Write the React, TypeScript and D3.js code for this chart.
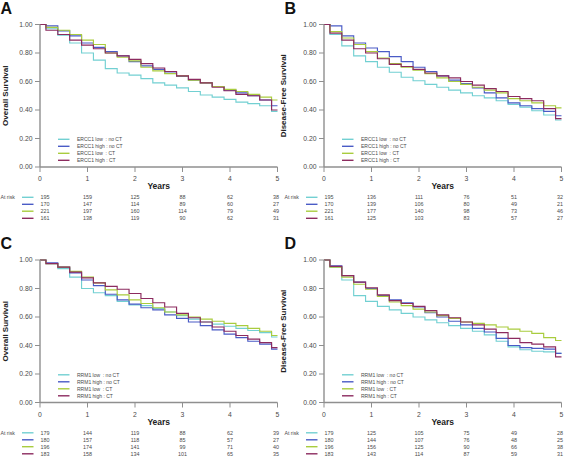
import React from "react";
import * as d3 from "d3";

// ---------- data ----------
const TIMES = [0, 0.25, 0.5, 0.75, 1, 1.25, 1.5, 1.75, 2, 2.25, 2.5, 2.75, 3, 3.25, 3.5, 3.75, 4, 4.25, 4.5, 4.75, 5];
const X_TICKS = [0, 1, 2, 3, 4, 5];
const Y_TICKS = [0, 0.2, 0.4, 0.6, 0.8, 1.0];
const COLORS = ["#72d0d2", "#4a5bc6", "#a9cc3e", "#8c2b5f"];

const ERCC1_LABELS = ["ERCC1 low  : no CT", "ERCC1 high : no CT", "ERCC1 low  : CT", "ERCC1 high : CT"];
const RRM1_LABELS = ["RRM1 low  : no CT", "RRM1 high : no CT", "RRM1 low  : CT", "RRM1 high : CT"];

// Panel A – overall survival by ERCC1
const A_LOW_NOCT = [1, 0.97, 0.925, 0.87, 0.8, 0.75, 0.69, 0.66, 0.645, 0.62, 0.59, 0.575, 0.555, 0.53, 0.505, 0.49, 0.475, 0.455, 0.445, 0.43, 0.39];
const A_HIGH_NOCT = [1, 0.99, 0.955, 0.92, 0.87, 0.84, 0.81, 0.78, 0.74, 0.71, 0.685, 0.66, 0.635, 0.61, 0.59, 0.565, 0.54, 0.52, 0.5, 0.47, 0.43];
const A_LOW_CT = [1, 0.98, 0.96, 0.93, 0.89, 0.86, 0.8, 0.77, 0.745, 0.7, 0.675, 0.655, 0.64, 0.61, 0.59, 0.565, 0.545, 0.53, 0.51, 0.49, 0.47];
const A_HIGH_CT = [1, 0.96, 0.93, 0.89, 0.855, 0.83, 0.8, 0.78, 0.755, 0.725, 0.695, 0.67, 0.64, 0.615, 0.59, 0.56, 0.535, 0.51, 0.5, 0.47, 0.4];

// Panel B – disease-free survival by ERCC1
const B_LOW_NOCT = [1, 0.93, 0.85, 0.78, 0.74, 0.7, 0.665, 0.63, 0.605, 0.58, 0.56, 0.54, 0.52, 0.5, 0.485, 0.465, 0.44, 0.42, 0.395, 0.365, 0.33];
const B_HIGH_NOCT = [1, 0.99, 0.92, 0.87, 0.835, 0.81, 0.775, 0.74, 0.7, 0.67, 0.64, 0.61, 0.585, 0.555, 0.52, 0.485, 0.45, 0.43, 0.41, 0.39, 0.36];
const B_LOW_CT = [1, 0.95, 0.905, 0.86, 0.81, 0.765, 0.725, 0.7, 0.68, 0.655, 0.625, 0.6, 0.58, 0.56, 0.54, 0.52, 0.48, 0.465, 0.45, 0.43, 0.415];
const B_HIGH_CT = [1, 0.94, 0.89, 0.83, 0.8, 0.76, 0.72, 0.705, 0.685, 0.66, 0.64, 0.625, 0.6, 0.575, 0.55, 0.53, 0.495, 0.48, 0.465, 0.41, 0.34];

// Panel C – overall survival by RRM1
const C_LOW_NOCT = [1, 0.975, 0.94, 0.88, 0.8, 0.77, 0.75, 0.71, 0.685, 0.68, 0.66, 0.635, 0.61, 0.585, 0.565, 0.55, 0.535, 0.52, 0.505, 0.49, 0.46];
const C_HIGH_NOCT = [1, 0.98, 0.95, 0.91, 0.86, 0.82, 0.76, 0.72, 0.69, 0.665, 0.65, 0.615, 0.59, 0.565, 0.54, 0.51, 0.48, 0.455, 0.43, 0.41, 0.375];
const C_LOW_CT = [1, 0.975, 0.95, 0.92, 0.88, 0.84, 0.79, 0.755, 0.72, 0.695, 0.665, 0.635, 0.615, 0.6, 0.585, 0.57, 0.555, 0.54, 0.52, 0.5, 0.47];
const C_HIGH_CT = [1, 0.975, 0.95, 0.915, 0.875, 0.84, 0.815, 0.795, 0.765, 0.73, 0.7, 0.67, 0.625, 0.595, 0.565, 0.53, 0.5, 0.47, 0.445, 0.42, 0.385];

// Panel D – disease-free survival by RRM1
const D_LOW_NOCT = [1, 0.95, 0.86, 0.75, 0.71, 0.675, 0.65, 0.625, 0.6, 0.58, 0.56, 0.54, 0.52, 0.5, 0.475, 0.43, 0.39, 0.37, 0.36, 0.355, 0.345];
const D_HIGH_NOCT = [1, 0.96, 0.89, 0.845, 0.8, 0.75, 0.72, 0.7, 0.67, 0.63, 0.6, 0.57, 0.545, 0.52, 0.495, 0.45, 0.4, 0.385, 0.38, 0.375, 0.345];
const D_LOW_CT = [1, 0.95, 0.88, 0.83, 0.795, 0.745, 0.705, 0.68, 0.655, 0.635, 0.61, 0.59, 0.565, 0.555, 0.545, 0.53, 0.515, 0.5, 0.485, 0.455, 0.435];
const D_HIGH_CT = [1, 0.955, 0.89, 0.845, 0.805, 0.755, 0.715, 0.695, 0.675, 0.645, 0.615, 0.595, 0.565, 0.545, 0.515, 0.49, 0.45, 0.42, 0.41, 0.39, 0.32];

// numbers at risk
const A_RISK = [[195, 159, 125, 88, 62, 38], [170, 147, 114, 89, 60, 27], [221, 197, 160, 114, 79, 49], [161, 138, 119, 90, 62, 31]];
const B_RISK = [[195, 136, 111, 76, 51, 32], [170, 139, 106, 80, 49, 21], [221, 177, 140, 98, 73, 46], [161, 125, 103, 83, 57, 27]];
const C_RISK = [[179, 144, 119, 88, 62, 39], [180, 157, 118, 85, 57, 27], [196, 174, 141, 99, 71, 40], [183, 158, 134, 101, 65, 35]];
const D_RISK = [[179, 125, 105, 75, 49, 28], [180, 144, 107, 76, 48, 25], [196, 156, 125, 90, 66, 38], [183, 143, 114, 87, 59, 31]];

const PANELS = [
  { letter: "A", title: "Overall Survival", ox: 0, oy: 0, series: [A_LOW_NOCT, A_HIGH_NOCT, A_LOW_CT, A_HIGH_CT], labels: ERCC1_LABELS, risk: A_RISK, titleDx: -35 },
  { letter: "B", title: "Disease-Free Survival", ox: 284, oy: 0, series: [B_LOW_NOCT, B_HIGH_NOCT, B_LOW_CT, B_HIGH_CT], labels: ERCC1_LABELS, risk: B_RISK, titleDx: -41 },
  { letter: "C", title: "Overall Survival", ox: 0, oy: 235.5, series: [C_LOW_NOCT, C_HIGH_NOCT, C_LOW_CT, C_HIGH_CT], labels: RRM1_LABELS, risk: C_RISK, titleDx: -35 },
  { letter: "D", title: "Disease-Free Survival", ox: 284, oy: 235.5, series: [D_LOW_NOCT, D_HIGH_NOCT, D_LOW_CT, D_HIGH_CT], labels: RRM1_LABELS, risk: D_RISK, titleDx: -41 },
];

const FONT = "'Liberation Sans', Arial, Helvetica, sans-serif";
const AXIS_COLOR = "#8f8f8f";
const TEXT_COLOR = "#4a4a4a";

function Panel({ p }: { p: (typeof PANELS)[number] }) {
  const x0 = p.ox + 40;
  const x1 = p.ox + 277.5;
  const yTop = p.oy + 24.5;
  const yBot = p.oy + 167;
  const x = d3.scaleLinear().domain([0, 5]).range([x0, x1]);
  const y = d3.scaleLinear().domain([0, 1]).range([yBot, yTop]);
  const line = d3
    .line<number>()
    .x((_, i) => x(TIMES[i]))
    .y((d) => y(d))
    .curve(d3.curveStep);

  const legendRows = [-27.7, -20.7, -13.7, -6.7];
  const riskRows = [30.3, 37.3, 44.2, 51.3];

  return (
    <g>
      <text x={p.ox + 0.5} y={p.oy + 13.5} fontFamily={FONT} fontWeight="bold" fontSize={16} fill="#111">
        {p.letter}
      </text>
      {/* curves */}
      {p.series.map((s, i) => (
        <path key={i} d={line(s) || ""} fill="none" stroke={COLORS[i]} strokeWidth={1.15} />
      ))}
      {/* y axis */}
      <line x1={x0} x2={x0} y1={yTop} y2={yBot} stroke={AXIS_COLOR} strokeWidth={1.4} />
      {Y_TICKS.map((t) => (
        <g key={t}>
          <line x1={x0 - 5} x2={x0} y1={y(t)} y2={y(t)} stroke={AXIS_COLOR} strokeWidth={1} />
          <text x={x0 - 7.5} y={y(t)} dy="0.35em" textAnchor="end" fontFamily={FONT} fontSize={6.8} fill={TEXT_COLOR}>
            {d3.format(".2f")(t)}
          </text>
        </g>
      ))}
      {/* x axis */}
      <line x1={x0} x2={x1} y1={yBot} y2={yBot} stroke={AXIS_COLOR} strokeWidth={1.4} />
      {X_TICKS.map((t) => (
        <g key={t}>
          <line x1={x(t)} x2={x(t)} y1={yBot} y2={yBot + 5} stroke={AXIS_COLOR} strokeWidth={1} />
          <text x={x(t)} y={yBot + 12} dy="0.35em" textAnchor="middle" fontFamily={FONT} fontSize={6.8} fill={TEXT_COLOR}>
            {t}
          </text>
        </g>
      ))}
      <text x={(x0 + x1) / 2} y={yBot + 22} textAnchor="middle" fontFamily={FONT} fontWeight="bold" fontSize={8.5} fill="#222">
        Years
      </text>
      {/* y title */}
      <text
        transform={`translate(${x0 + p.titleDx},${(yTop + yBot) / 2}) rotate(-90)`}
        textAnchor="middle"
        dy="0.35em"
        fontFamily={FONT}
        fontWeight="bold"
        fontSize={8}
        fill="#222"
      >
        {p.title}
      </text>
      {/* legend */}
      {p.labels.map((lab, i) => (
        <g key={lab}>
          <line x1={x0 + 18} x2={x0 + 29.5} y1={yBot + legendRows[i]} y2={yBot + legendRows[i]} stroke={COLORS[i]} strokeWidth={1.4} />
          <text x={x0 + 37} y={yBot + legendRows[i]} dy="0.35em" fontFamily={FONT} fontSize={5} fill={TEXT_COLOR} style={{ whiteSpace: "pre" }}>
            {lab}
          </text>
        </g>
      ))}
      {/* at risk table */}
      <text x={x0 - 39.5} y={yBot + riskRows[0]} dy="0.35em" fontFamily={FONT} fontSize={5.2} fill={TEXT_COLOR}>
        At risk
      </text>
      {p.risk.map((row, i) => (
        <g key={i}>
          <line x1={x0 - 18} x2={x0 - 6.5} y1={yBot + riskRows[i]} y2={yBot + riskRows[i]} stroke={COLORS[i]} strokeWidth={1.4} />
          {row.map((v, j) => (
            <text
              key={j}
              x={j === 0 ? x0 + 5 : j === 5 ? x(X_TICKS[j]) - 1.5 : x(X_TICKS[j])}
              y={yBot + riskRows[i]}
              dy="0.35em"
              textAnchor="middle"
              fontFamily={FONT}
              fontSize={5.4}
              fill={TEXT_COLOR}
            >
              {v}
            </text>
          ))}
        </g>
      ))}
    </g>
  );
}

export default function App() {
  return (
    <svg width={565} height={457} style={{ position: "absolute", left: 0, top: 0, background: "#fff" }}>
      <rect x={0} y={0} width={565} height={457} fill="#fff" />
      {PANELS.map((p) => (
        <Panel key={p.letter} p={p} />
      ))}
    </svg>
  );
}
